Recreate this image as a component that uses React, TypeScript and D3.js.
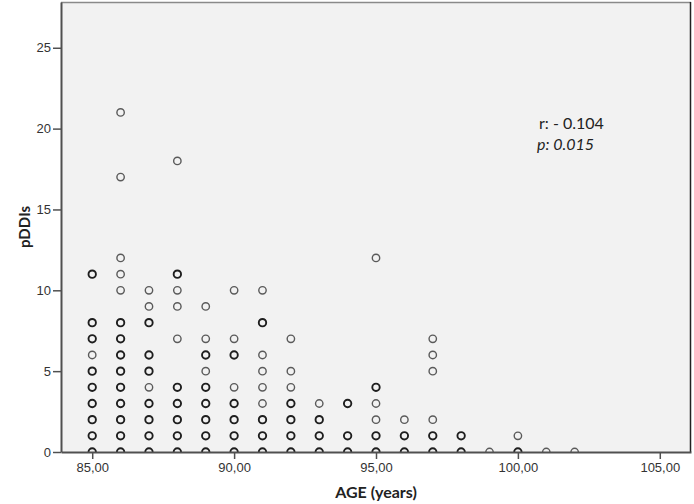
import * as d3 from "d3";
import { useEffect, useRef } from "react";

// ages on the x axis, one column of cases per age
const ages = [85, 86, 87, 88, 89, 90, 91, 92, 93, 94, 95, 96, 97, 98, 99, 100, 101, 102];

// pDDIs observed at each age (same order as ages)
const pddiValues = [
  [0, 1, 2, 3, 4, 5, 6, 7, 8, 11],
  [0, 1, 2, 3, 4, 5, 6, 7, 8, 10, 11, 12, 17, 21],
  [0, 1, 2, 3, 4, 5, 6, 8, 9, 10],
  [0, 1, 2, 3, 4, 7, 9, 10, 11, 18],
  [0, 1, 2, 3, 4, 5, 6, 7, 9],
  [0, 1, 2, 3, 4, 6, 7, 10],
  [0, 1, 2, 3, 4, 5, 6, 8, 10],
  [0, 1, 2, 3, 4, 5, 7],
  [0, 1, 2, 3],
  [0, 1, 3],
  [0, 1, 2, 3, 4, 12],
  [0, 1, 2],
  [0, 1, 2, 5, 6, 7],
  [0, 1],
  [0],
  [0, 1],
  [0],
  [0],
];

// values drawn darker because several cases sit on top of each other
const stacked = [
  [0, 1, 2, 3, 4, 5, 7, 8, 11],
  [0, 1, 2, 3, 4, 5, 6, 7, 8],
  [0, 1, 2, 3, 5, 6, 8],
  [0, 1, 2, 3, 4, 11],
  [0, 1, 2, 3, 4, 6],
  [0, 1, 2, 3, 6],
  [0, 1, 2, 8],
  [0, 1, 2, 3],
  [0, 1, 2],
  [0, 1, 3],
  [0, 1, 4],
  [0, 1],
  [0, 1],
  [0, 1],
  [],
  [0],
  [],
  [],
];

const xTicks = [85, 90, 95, 100, 105];
const yTicks = [0, 5, 10, 15, 20, 25];

const W = 694;
const H = 504;

export default function App() {
  const ref = useRef<SVGSVGElement>(null);

  useEffect(() => {
    const svg = d3.select(ref.current);
    svg.selectAll("*").remove();

    const left = 61, right = 691, top = 2, bottom = 452;
    const x = d3.scaleLinear().domain([83.9, 106.1]).range([left, right]);
    const y = d3.scaleLinear().domain([0, 27.83]).range([bottom, top]);

    svg.append("rect")
      .attr("x", left).attr("y", top)
      .attr("width", right - left).attr("height", bottom - top)
      .attr("fill", "#f2f2f2");

    svg.append("defs").append("clipPath").attr("id", "plotClip")
      .append("rect")
      .attr("x", left).attr("y", top)
      .attr("width", right - left).attr("height", bottom - top);

    // frame
    svg.append("line")
      .attr("x1", left).attr("x2", right).attr("y1", top + 0.5).attr("y2", top + 0.5)
      .attr("stroke", "#8a8a8a").attr("stroke-width", 1.5);
    svg.append("line")
      .attr("x1", right - 0.5).attr("x2", right - 0.5).attr("y1", top).attr("y2", bottom)
      .attr("stroke", "#222").attr("stroke-width", 1.5);

    // points
    const pts: { age: number; v: number; dark: boolean }[] = [];
    ages.forEach((a, i) => {
      pddiValues[i].forEach((v) => {
        pts.push({ age: a, v, dark: stacked[i].includes(v) });
      });
    });

    svg.append("g").attr("clip-path", "url(#plotClip)")
      .selectAll("circle")
      .data(pts)
      .enter()
      .append("circle")
      .attr("cx", (d) => x(d.age))
      .attr("cy", (d) => y(d.v))
      .attr("r", 3.7)
      .attr("fill", "none")
      .attr("stroke", (d) => (d.dark ? "#1e1e1e" : "#5a5a5a"))
      .attr("stroke-width", (d) => (d.dark ? 1.9 : 1.4));

    // axes
    const yAxis = svg.append("g")
      .attr("transform", `translate(${left},0)`)
      .call(d3.axisLeft(y).tickValues(yTicks).tickSize(8).tickSizeOuter(0).tickPadding(2).tickFormat(d3.format("d")));
    const xAxis = svg.append("g")
      .attr("transform", `translate(0,${bottom})`)
      .call(
        d3.axisBottom(x).tickValues(xTicks).tickSize(7).tickSizeOuter(0).tickPadding(4)
          .tickFormat((d) => (+d).toFixed(2).replace(".", ","))
      );

    [xAxis, yAxis].forEach((g) => {
      g.select(".domain").attr("stroke", "#505050").attr("stroke-width", 2);
      g.selectAll(".tick line").attr("stroke", "#505050").attr("stroke-width", 1.5);
      g.selectAll(".tick text")
        .attr("fill", "#333")
        .style("font-family", "'Liberation Sans', Arial, sans-serif")
        .style("font-size", "13px");
    });

    svg.append("text")
      .attr("x", (left + right) / 2).attr("y", 498)
      .attr("text-anchor", "middle")
      .style("font-family", "Lato, sans-serif").style("font-weight", "bold").style("font-size", "16px")
      .attr("fill", "#222")
      .text("AGE (years)");

    svg.append("text")
      .attr("transform", `translate(30,${(top + bottom) / 2}) rotate(-90)`)
      .attr("text-anchor", "middle")
      .style("font-family", "Lato, sans-serif").style("font-weight", "bold").style("font-size", "15px")
      .attr("fill", "#222")
      .text("pDDIs");

    svg.append("text")
      .attr("x", 539).attr("y", 129)
      .style("font-family", "Lato, sans-serif").style("font-size", "16px")
      .attr("fill", "#222")
      .text("r: - 0.104");
    svg.append("text")
      .attr("x", 537).attr("y", 150)
      .style("font-family", "Lato, sans-serif").style("font-size", "16px").style("font-style", "italic")
      .attr("fill", "#222")
      .text("p: 0.015");
  }, []);

  return (
    <svg
      ref={ref}
      width={W}
      height={H}
      style={{ position: "absolute", left: 0, top: 0, background: "#fff" }}
    />
  );
}
